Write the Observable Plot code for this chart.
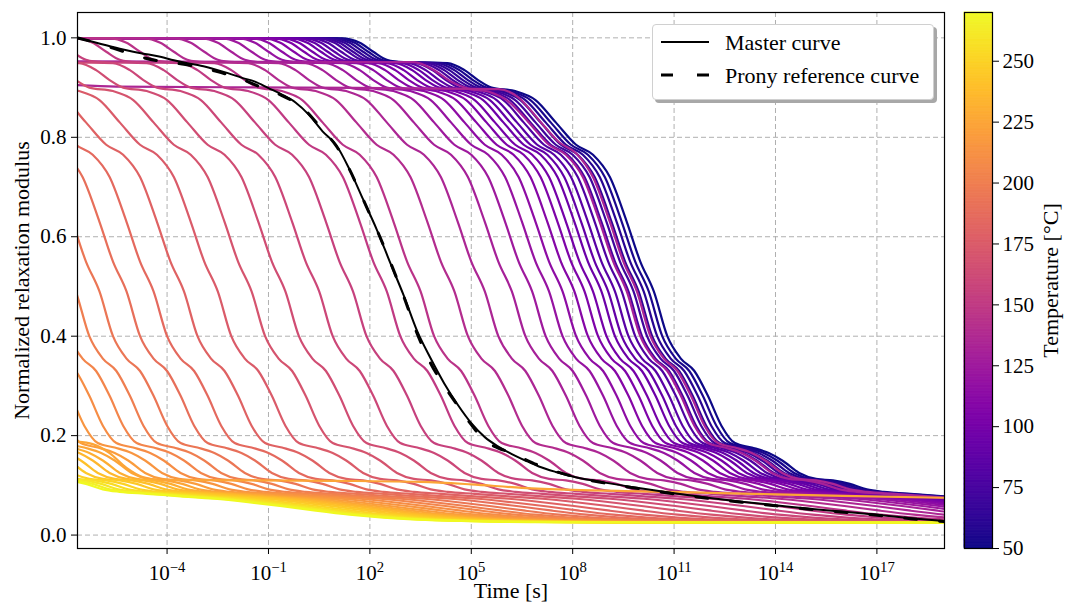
<!DOCTYPE html>
<html><head><meta charset="utf-8">
<script src="https://cdn.jsdelivr.net/npm/d3@7"></script>
<script src="https://cdn.jsdelivr.net/npm/@observablehq/plot@0.6"></script>
<style>
body{margin:0;background:#fff;}
#wrap{position:relative;width:1065px;height:611px;font-family:"Liberation Serif","Times New Roman",serif;overflow:hidden;}
#main{position:absolute;left:0;top:0;}
#cbar{position:absolute;left:950px;top:0;}
#legend{position:absolute;left:652px;top:24px;width:282px;height:76px;box-sizing:border-box;border:1px solid #d0d0d0;border-radius:4px;background:#fff;box-shadow:3px 3px 0 #a8a8a8;}
</style></head><body>
<div id="wrap"><div id="main"></div><div id="cbar"></div><div id="legend"></div></div>
<script>
// ---- data ----
const temps  = [50,55,60,65,70,75,80,85,90,95,100,105,110,115,120,125,130,135,140,145,150,155,160,165,170,175,180,185,190,195,200,205,210,215,220,225,230,235,240,245,250,255,260,265,270];
// log10 horizontal shift of each temperature curve relative to the 50 °C curve
const shifts = [0,0.15,0.3,0.45,0.6,0.75,0.95,1.15,1.35,1.55,1.8,2.05,2.35,2.7,3.1,3.6,4.2,5.0,5.9,6.9,7.9,8.9,9.9,10.9,11.9,12.9,13.9,14.8,15.6,16.4,17.1,17.7,18.3,18.85,19.35,19.75,20.1,20.4,20.75,21.1,21.5,21.85,22.15,22.4,22.6];
// relaxation profile of the 50 °C curve (log10 t, normalized modulus)
const baseLogT = [-20,1.2,1.7,2.1,2.5,3.0,4.3,4.8,5.2,5.6,6.3,6.9,7.5,8.1,8.6,9.1,9.6,10.0,10.4,10.8,11.2,11.6,12.0,12.4,12.8,13.3,13.8,14.2,14.7,15.2,15.7,16.2,16.7,17.2,18.0,19.0,20,21,22,23,24,25,26,27.5,30,45];
const baseG    = [1.0,0.999,0.99,0.972,0.956,0.951,0.949,0.935,0.915,0.9,0.893,0.875,0.83,0.785,0.765,0.72,0.63,0.55,0.49,0.40,0.355,0.33,0.28,0.22,0.185,0.176,0.165,0.15,0.125,0.113,0.11,0.103,0.092,0.087,0.083,0.078,0.073,0.066,0.058,0.049,0.041,0.035,0.031,0.028,0.026,0.025];
// curves with long plateaus
const plateauTemps = [130,135,225];
const plateauCurves = [
  [[-6.65,0.953],[3.3,0.951],[3.9,0.935],[4.4,0.912],[4.9,0.898],[5.5,0.892],[6.1,0.872],[6.7,0.83],[7.3,0.785],[7.8,0.765],[8.3,0.72],[8.8,0.63],[9.2,0.55],[9.6,0.49],[10.0,0.40],[10.4,0.355],[10.8,0.33],[11.2,0.28],[11.6,0.22],[12.0,0.185],[12.5,0.176],[13.0,0.165],[13.4,0.15],[13.9,0.125],[14.4,0.113],[14.9,0.11],[15.4,0.103],[15.9,0.092],[16.4,0.087],[17.2,0.083],[18.2,0.078],[19.2,0.073]],
  [[-6.65,0.905],[-5.5,0.902],[0,0.9],[5.8,0.897],[6.4,0.88],[7.0,0.835],[7.6,0.79],[8.1,0.768],[8.6,0.72],[9.1,0.63],[9.5,0.55],[9.9,0.49],[10.3,0.40],[10.7,0.355],[11.1,0.33],[11.5,0.28],[11.9,0.22],[12.3,0.185],[12.8,0.176],[13.3,0.165],[13.7,0.15],[14.2,0.125],[14.7,0.113],[15.2,0.11],[15.7,0.103],[16.2,0.092],[16.7,0.087],[17.5,0.083],[18.5,0.078],[19.5,0.073]],
  [[-6.65,0.188],[-6.2,0.183],[-5.7,0.165],[-5.2,0.135],[-4.7,0.116],[-4.2,0.111],[-2,0.11],[1,0.109],[3.5,0.107],[5,0.102],[6.5,0.095],[8,0.091],[10,0.088],[12,0.085],[14,0.082],[16,0.079],[19,0.075]]
];
// master curve and Prony reference curve
const masterLogT = [-6.65,-6.2,-5.8,-5.4,-5.0,-4.6,-4.2,-3.8,-3.4,-3.0,-2.6,-2.2,-1.8,-1.4,-1.0,-0.6,-0.2,0.2,0.6,1.0,1.4,1.8,2.2,2.6,3.0,3.4,3.8,4.2,4.6,5.0,5.4,5.8,6.2,6.6,7.0,7.5,8,9,10,11,12,13,14,15,16,17,18,19];
const masterG    = [1.0,0.992,0.985,0.978,0.972,0.967,0.962,0.955,0.949,0.944,0.937,0.929,0.92,0.912,0.899,0.886,0.87,0.845,0.812,0.785,0.735,0.675,0.615,0.548,0.482,0.41,0.355,0.305,0.262,0.225,0.197,0.178,0.163,0.15,0.138,0.127,0.118,0.105,0.094,0.084,0.075,0.067,0.06,0.053,0.047,0.041,0.034,0.028];
const pronyLogT = [-6.65,-6,-5.4,-4.8,-4.2,-3.6,-3.0,-2.4,-1.8,-1.2,-0.6,0,0.6,1.0,1.4,1.8,2.2,2.6,3.0,3.4,3.8,4.2,4.6,5.0,5.4,5.8,6.2,6.6,7,7.5,8,9,10,11,12,13,14,15,16,17,18,19];
const pronyG    = [1.0,0.988,0.975,0.962,0.953,0.948,0.94,0.93,0.917,0.9,0.884,0.86,0.815,0.783,0.735,0.675,0.615,0.55,0.48,0.405,0.345,0.3,0.26,0.222,0.19,0.175,0.165,0.152,0.14,0.128,0.118,0.104,0.093,0.083,0.074,0.066,0.059,0.052,0.046,0.04,0.033,0.027];
const xTicks = [-4,-1,2,5,8,11,14,17];
const yTicks = [0,0.2,0.4,0.6,0.8,1.0];
const cbarTicks = [50,75,100,125,150,175,200,225,250];
const tempRange = [50,270];

// ---- tables ----
const rows = [];
temps.forEach((T,i)=>{
  baseLogT.forEach((u,j)=>rows.push({id:"T"+T, temp:T, x:u - shifts[i], y:baseG[j]}));
});
plateauCurves.forEach((pts,k)=>{
  pts.forEach(p=>rows.push({id:"P"+k, temp:plateauTemps[k], x:p[0], y:p[1]}));
});
rows.sort((a,b)=>a.temp-b.temp);
const master = masterLogT.map((x,i)=>({x, y:masterG[i]}));
const prony  = pronyLogT.map((x,i)=>({x, y:pronyG[i]}));

const font = '"Liberation Serif","Times New Roman",serif';
const gridStyle = {stroke:"#b0b0b0", strokeOpacity:1, strokeWidth:1, strokeDasharray:"5,3"};

const main = Plot.plot({
  width:955, height:611,
  marginLeft:77, marginRight:11, marginTop:12, marginBottom:63,
  style:{fontFamily:font, fontSize:"21px", background:"transparent", color:"black"},
  x:{domain:[-6.65,19.0]},
  y:{domain:[-0.027,1.051]},
  color:{type:"linear", scheme:"plasma", domain:tempRange},
  marks:[
    Plot.gridX(xTicks, gridStyle),
    Plot.gridY(yTicks, gridStyle),
    Plot.line(rows, {x:"x", y:"y", z:"id", stroke:"temp", strokeWidth:2.2, curve:"monotone-x", clip:true}),
    Plot.line(master, {x:"x", y:"y", stroke:"black", strokeWidth:2, curve:"monotone-x", clip:true}),
    Plot.line(prony, {x:"x", y:"y", stroke:"black", strokeWidth:3, strokeDasharray:"12,23", curve:"monotone-x", clip:true}),
    Plot.frame({stroke:"black", strokeWidth:1.2}),
    Plot.axisX({ticks:xTicks, tickSize:6, tickPadding:11, tickFormat:d=>String(d), label:null}),
    Plot.axisY({ticks:yTicks, tickSize:6, tickPadding:5, tickFormat:d3.format(".1f"), label:null}),
    Plot.text([0], {text:()=>"Normalized relaxation modulus", frameAnchor:"left", textAnchor:"middle", dx:-56, rotate:-90, fontSize:22}),
    Plot.text([0], {text:()=>"Time [s]", frameAnchor:"bottom", textAnchor:"middle", dy:49, fontSize:22})
  ]
});
d3.select(main).selectAll('g[aria-label="x-axis tick label"] text').each(function(){
  const t = d3.select(this);
  const e = +t.text().replace("\u2212","-");
  t.text("10");
  t.append("tspan").attr("dy","-0.55em").attr("font-size","0.7em").text(e<0 ? "\u2212"+(-e) : String(e));
});
document.getElementById("main").appendChild(main);

const bands = d3.range(tempRange[0], tempRange[1], 0.5);
const cbar = Plot.plot({
  width:115, height:611,
  marginLeft:14, marginRight:73, marginTop:12, marginBottom:63,
  style:{fontFamily:font, fontSize:"21px", background:"transparent", color:"black"},
  x:{domain:[0,1], axis:null},
  y:{domain:tempRange},
  color:{type:"linear", scheme:"plasma", domain:tempRange},
  marks:[
    Plot.rect(bands, {x1:0, x2:1, y1:d=>d, y2:d=>Math.min(d+0.5, tempRange[1]), fill:d=>d+0.25, stroke:d=>d+0.25, strokeWidth:0.8}),
    Plot.frame({stroke:"black", strokeWidth:1.2}),
    Plot.axisY({anchor:"right", ticks:cbarTicks, tickSize:6, tickPadding:4, label:null}),
    Plot.text([0], {text:()=>"Temperature [°C]", frameAnchor:"right", textAnchor:"middle", dx:58, rotate:-90, fontSize:22})
  ]
});
document.getElementById("cbar").appendChild(cbar);

// legend
const legend = d3.select("#legend").append("svg").attr("width",280).attr("height",74)
  .style("font-family",font).style("font-size","22px");
const entries = [{label:"Master curve", dash:null, w:2.2},{label:"Prony reference curve", dash:"12,24", w:3}];
entries.forEach((e,i)=>{
  const y = 17 + i*33;
  legend.append("line").attr("x1",8).attr("x2",56).attr("y1",y).attr("y2",y)
    .attr("stroke","black").attr("stroke-width",e.w).attr("stroke-dasharray",e.dash);
  legend.append("text").attr("x",72).attr("y",y).attr("dy","0.35em").text(e.label);
});
</script></body></html>
